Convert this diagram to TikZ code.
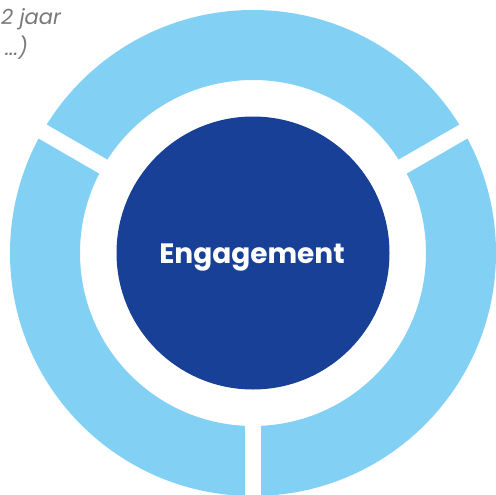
\documentclass[tikz,border=0pt]{standalone}
\usepackage{fontspec}
\setmainfont{Poppins}
\definecolor{ringblue}{RGB}{130,208,244}
\definecolor{coreblue}{RGB}{24,64,150}
\definecolor{notegray}{RGB}{120,120,120}
\begin{document}
\begin{tikzpicture}[x=1pt,y=-1pt,
  gapline/.style={white,line width=16pt},
  notetext/.style={text=notegray,font=\itshape\fontsize{21}{24}\selectfont,inner sep=0pt}]
\useasboundingbox (0,0) rectangle (495,495);
\coordinate (c) at (253,253);
% ring
\fill[ringblue,even odd rule] (c) circle[radius=243] (c) circle[radius=173];
\draw[gapline] (c) -- ++(-30:262);
\draw[gapline] (c) -- ++(-150:262);
\draw[gapline] (c) -- ++(90:262);
% core
\node[circle,fill=coreblue,minimum size=273pt,inner sep=0pt] (core) at (c) {};
\node[text=white,font=\bfseries\fontsize{28}{32}\selectfont,inner sep=0pt,anchor=base] (label) at (252,263) {Engagement};
% partial note text
\node[notetext,anchor=base west] (note1) at (1,25) {2 jaar};
\node[notetext,anchor=base east] (note2) at (28,56) {...)};
\end{tikzpicture}
\end{document}
